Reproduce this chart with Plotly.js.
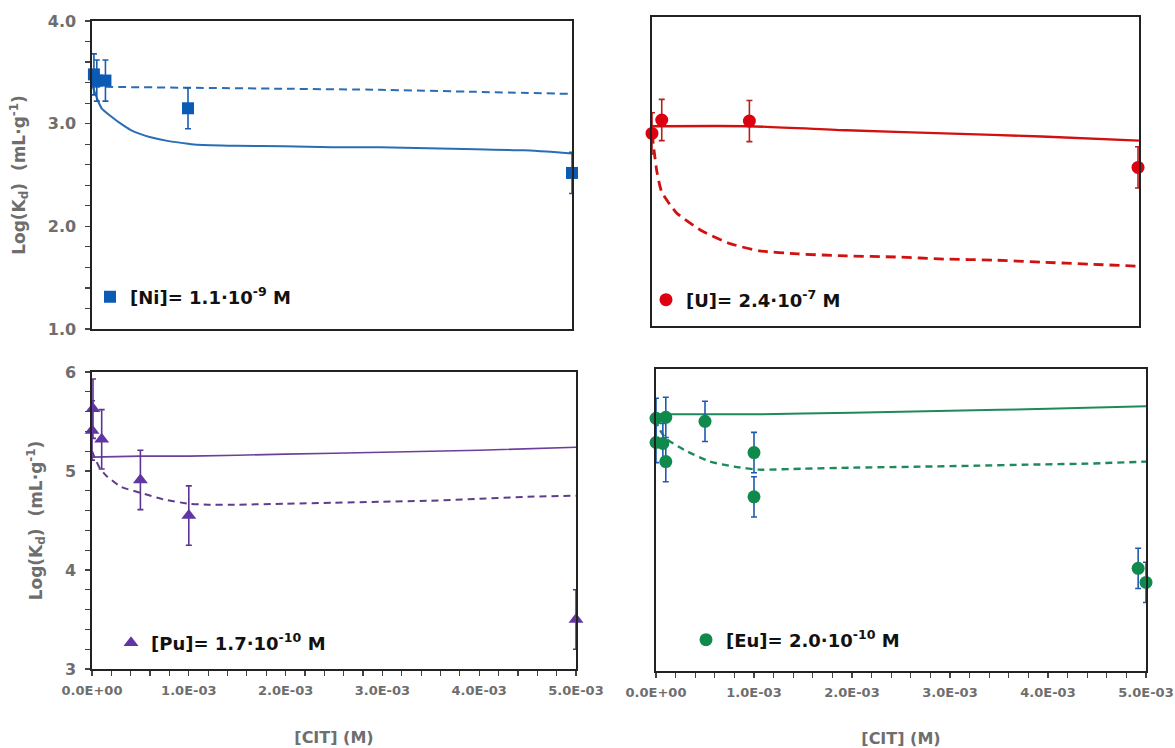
<!DOCTYPE html>
<html><head><meta charset="utf-8">
<script src="https://cdn.plot.ly/plotly-3.0.1.min.js"></script>
<style>body{margin:0;background:#fff}#chart{width:1175px;height:748px}</style>
</head><body><div id="chart"></div>
<script>
// ---------- Ni (top-left) ----------
const niX = [2e-5, 5e-5, 1.4e-4, 1e-3, 5e-3];
const niY = [3.48, 3.42, 3.42, 3.15, 2.52];
const niErr = [0.2, 0.2, 0.2, 0.2, 0.2];
const niSolidX = [0, 2e-5, 5e-5, 1e-4, 2e-4, 3e-4, 4e-4, 5e-4, 6e-4, 8e-4, 1e-3, 1.1e-3, 1.5e-3, 2e-3, 2.5e-3, 3e-3, 3.5e-3, 4e-3, 4.5e-3, 5e-3];
const niSolidY = [3.38, 3.33, 3.25, 3.15, 3.07, 3.00, 2.94, 2.90, 2.87, 2.83, 2.805, 2.795, 2.785, 2.78, 2.77, 2.77, 2.76, 2.75, 2.74, 2.71];
const niDashX = [0, 1e-3, 2e-3, 3e-3, 4e-3, 5e-3];
const niDashY = [3.36, 3.35, 3.34, 3.33, 3.31, 3.29];

// ---------- U (top-right) ----------
const uX = [0, 1e-4, 1e-3, 4.99e-3];
const uY = [2.87, 3.00, 2.99, 2.54];
const uErr = [0.2, 0.2, 0.2, 0.2];
const uSolidX = [0, 1e-3, 2e-3, 3e-3, 4e-3, 5e-3];
const uSolidY = [2.94, 2.94, 2.90, 2.87, 2.84, 2.80];
const uDashX = [0, 5e-5, 1e-4, 2.5e-4, 5e-4, 8e-4, 1.1e-3, 1.5e-3, 2e-3, 2.5e-3, 3e-3, 3.5e-3, 4e-3, 4.5e-3, 5e-3];
const uDashY = [2.87, 2.50, 2.30, 2.10, 1.93, 1.80, 1.73, 1.70, 1.68, 1.67, 1.65, 1.64, 1.62, 1.60, 1.58];

// ---------- Pu (bottom-left) ----------
const puX = [1e-5, 0, 1e-4, 5e-4, 1e-3, 5e-3];
const puY = [5.63, 5.41, 5.32, 4.91, 4.55, 3.50];
const puErr = [0.3, 0.3, 0.3, 0.3, 0.3, 0.3];
const puSolidX = [0, 5e-4, 1e-3, 2e-3, 3e-3, 4e-3, 5e-3];
const puSolidY = [5.14, 5.15, 5.15, 5.17, 5.19, 5.21, 5.24];
const puDashX = [0, 3e-5, 8e-5, 1.5e-4, 3e-4, 5e-4, 7.5e-4, 1e-3, 1.2e-3, 1.5e-3, 2e-3, 2.5e-3, 3e-3, 3.5e-3, 4e-3, 4.5e-3, 5e-3];
const puDashY = [5.20, 5.13, 5.03, 4.95, 4.84, 4.78, 4.71, 4.67, 4.66, 4.66, 4.67, 4.68, 4.69, 4.70, 4.72, 4.74, 4.75];

// ---------- Eu (bottom-right) ----------
const euX = [0, 1e-4, 0, 7e-5, 1e-4, 5e-4, 1e-3, 1e-3, 4.92e-3, 5e-3];
const euY = [5.51, 5.52, 5.27, 5.26, 5.08, 5.48, 5.17, 4.73, 4.02, 3.88];
const euErr = [0.2, 0.2, 0.2, 0.2, 0.2, 0.2, 0.2, 0.2, 0.2, 0.2];
const euSolidX = [0, 1e-3, 2e-3, 3e-3, 4e-3, 5e-3];
const euSolidY = [5.55, 5.55, 5.565, 5.585, 5.605, 5.63];
const euDashX = [0, 2e-5, 1e-4, 3e-4, 5.5e-4, 8e-4, 1.05e-3, 1.5e-3, 2e-3, 2.7e-3, 3.3e-3, 3.8e-3, 4.4e-3, 5e-3];
const euDashY = [5.50, 5.43, 5.31, 5.19, 5.08, 5.03, 5.00, 5.01, 5.02, 5.03, 5.04, 5.05, 5.06, 5.08];

// ---------- labels ----------
const xTickVals = [0, 1e-3, 2e-3, 3e-3, 4e-3, 5e-3];
const xTickText = ['0.0E+00', '1.0E-03', '2.0E-03', '3.0E-03', '4.0E-03', '5.0E-03'];
const yTopVals = [1, 2, 3, 4];
const yTopText = ['1.0', '2.0', '3.0', '4.0'];
const yBotVals = [3, 4, 5, 6];
const yBotText = ['3', '4', '5', '6'];
const seriesNames = ['[Ni]= 1.1·10<sup>-9</sup> M', '[U]= 2.4·10<sup>-7</sup> M', '[Pu]= 1.7·10<sup>-10</sup> M', '[Eu]= 2.0·10<sup>-10</sup> M'];
const yTitle = 'Log(K<sub>d</sub>)  (mL·g<sup>-1</sup>)';
const xTitle = '[CIT] (M)';

const W = 1175, H = 748;
const FONT = 'DejaVu Sans, sans-serif';
const GRAY = '#6e6e6e';

function pts(x, y, err, xa, ya, color, errColor, symbol, size, legend, name) {
  return {x: x, y: y, xaxis: xa, yaxis: ya, type: 'scatter', mode: 'markers', name: name,
    legend: legend, cliponaxis: false,
    marker: {symbol: symbol, size: size, color: color},
    error_y: {type: 'data', array: err, visible: true, color: errColor, thickness: 1.6, width: 3}};
}
function line(x, y, xa, ya, color, width, dash) {
  return {x: x, y: y, xaxis: xa, yaxis: ya, type: 'scatter', mode: 'lines', showlegend: false,
    line: {color: color, width: width, dash: dash, shape: 'spline', smoothing: 0.5}, hoverinfo: 'skip'};
}

const data = [
  line(niDashX, niDashY, 'x', 'y', '#2a6db5', 2, '8px,5px'),
  line(niSolidX, niSolidY, 'x', 'y', '#2a6db5', 2, 'solid'),
  pts(niX, niY, niErr, 'x', 'y', '#0b5bb5', '#1a5fae', 'square', 12, 'legend', seriesNames[0]),

  line(uDashX, uDashY, 'x2', 'y2', '#d31010', 2.8, '10px,6px'),
  line(uSolidX, uSolidY, 'x2', 'y2', '#d31010', 2.4, 'solid'),
  pts(uX, uY, uErr, 'x2', 'y2', '#dd0010', '#b52020', 'circle', 13, 'legend2', seriesNames[1]),

  line(puDashX, puDashY, 'x3', 'y3', '#5e3d8a', 2, '7px,5px'),
  line(puSolidX, puSolidY, 'x3', 'y3', '#6c3f9a', 1.6, 'solid'),
  pts(puX, puY, puErr, 'x3', 'y3', '#6235a5', '#5d3490', 'triangle-up', 13, 'legend3', seriesNames[2]),

  line(euDashX, euDashY, 'x4', 'y4', '#1e8a5c', 2.4, '7px,5px'),
  line(euSolidX, euSolidY, 'x4', 'y4', '#1e8a5c', 2, 'solid'),
  pts(euX, euY, euErr, 'x4', 'y4', '#0f8a4c', '#1f5ab0', 'circle', 13, 'legend4', seriesNames[3])
];

function dom(a, b, total) { return [a / total, b / total]; }
function ydom(top, bot) { return [1 - bot / H, 1 - top / H]; }

const xTickFont = {family: FONT, size: 13, color: GRAY, weight: 'bold'};
const yTickFont = {family: FONT, size: 16, color: GRAY, weight: 'bold'};
const xTitleFont = {family: FONT, size: 16, color: GRAY, weight: 'bold'};
const yTitleFont = {family: FONT, size: 17, color: GRAY, weight: 'bold'};
const baseAx = {showline: true, mirror: true, linecolor: '#222', linewidth: 1.6, showgrid: false, zeroline: false, fixedrange: true};

function xaxis(d, yanchor, showLabels) {
  const ax = Object.assign({}, baseAx, {domain: d, anchor: yanchor, range: [0, 5e-3]});
  if (showLabels) {
    Object.assign(ax, {tickmode: 'array', tickvals: xTickVals, ticktext: xTickText, ticks: 'outside', ticklen: 5,
      tickcolor: '#444', tickwidth: 1.2, tickfont: xTickFont, ticklabelstandoff: 4,
      minor: {tickmode: 'linear', tick0: 0, dtick: 2e-4, ticks: 'outside', ticklen: 5, tickcolor: '#444', tickwidth: 1.2},
      title: {text: xTitle, font: xTitleFont, standoff: 34}});
  } else {
    Object.assign(ax, {showticklabels: false, ticks: ''});
  }
  return ax;
}
function yaxis(d, xanchor, range, vals, text) {
  const ax = Object.assign({}, baseAx, {domain: d, anchor: xanchor, range: range});
  if (vals) {
    Object.assign(ax, {tickmode: 'array', tickvals: vals, ticktext: text, ticks: 'outside', ticklen: 5,
      tickcolor: '#444', tickwidth: 1.2, tickfont: yTickFont, ticklabelstandoff: 6,
      minor: {tickmode: 'linear', tick0: range[0], dtick: 0.2, ticks: 'outside', ticklen: 5, tickcolor: '#444', tickwidth: 1.2},
      title: {text: yTitle, font: yTitleFont, standoff: 18}});
  } else {
    Object.assign(ax, {showticklabels: false, ticks: ''});
  }
  return ax;
}

const legFont = {family: FONT, size: 18, color: '#111', weight: 'bold'};
function leg(xpx, ypx) {
  return {x: xpx / W, y: 1 - ypx / H, xanchor: 'left', yanchor: 'middle', font: legFont,
    bgcolor: 'rgba(0,0,0,0)', borderwidth: 0, itemwidth: 30, itemclick: false, itemdoubleclick: false};
}

const layout = {
  width: W, height: H,
  margin: {l: 0, r: 0, t: 0, b: 0},
  paper_bgcolor: '#fff', plot_bgcolor: '#fff',
  showlegend: true,
  xaxis: xaxis(dom(92, 572, W), 'y', false),
  yaxis: yaxis(ydom(21, 329), 'x', [1, 4], yTopVals, yTopText),
  xaxis2: xaxis(dom(652, 1139, W), 'y2', false),
  yaxis2: yaxis(ydom(17, 326), 'x2', [1, 4], null, null),
  xaxis3: xaxis(dom(92, 576, W), 'y3', true),
  yaxis3: yaxis(ydom(372, 669), 'x3', [3, 6], yBotVals, yBotText),
  xaxis4: xaxis(dom(656, 1146, W), 'y4', true),
  yaxis4: yaxis(ydom(369, 671), 'x4', [3, 6], null, null),
  legend: leg(90, 297),
  legend2: leg(646, 300),
  legend3: leg(111, 643),
  legend4: leg(686, 640)
};

Plotly.newPlot('chart', data, layout, {displayModeBar: false, staticPlot: true});
</script>
</body></html>
